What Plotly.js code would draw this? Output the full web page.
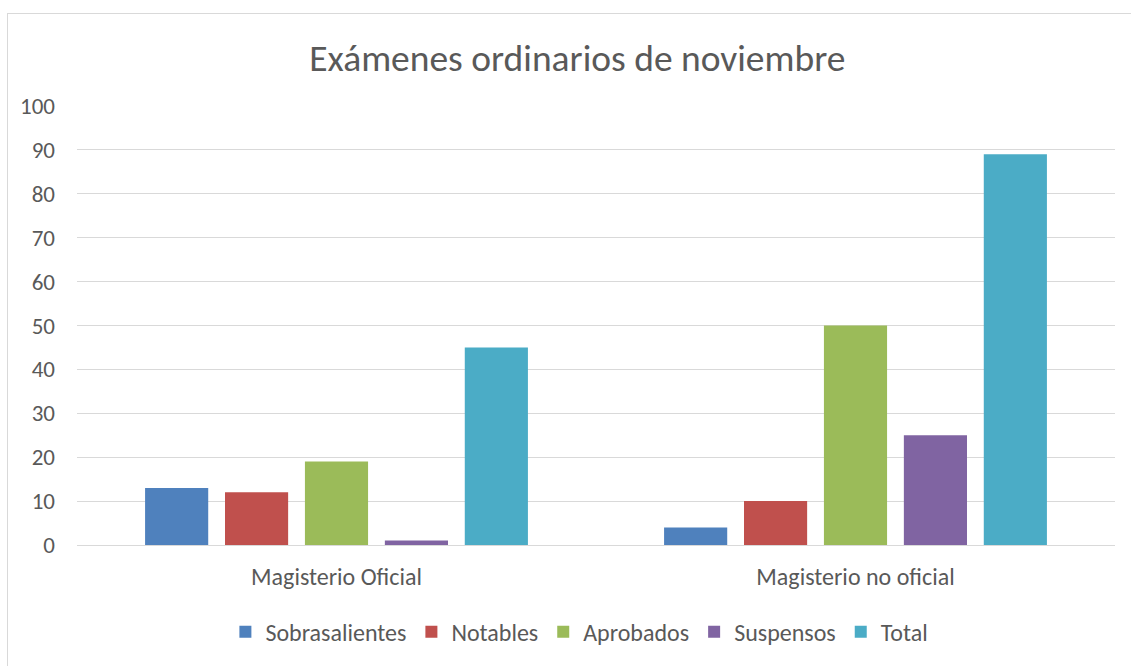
<!DOCTYPE html>
<html>
<head>
<meta charset="utf-8">
<script src="https://cdn.plot.ly/plotly-3.0.1.min.js"></script>
<style>
  html, body { margin: 0; padding: 0; background: #ffffff; overflow: hidden; }
  #frame { position: absolute; left: 7px; top: 13px; width: 1200px; height: 700px; border: 1px solid #d9d9d9; }
  #chart { position: absolute; left: 0; top: 0; width: 1131px; height: 666px; }
</style>
</head>
<body>
<div id="frame"></div>
<div id="chart"></div>
<script>
const categories = ["Magisterio Oficial", "Magisterio no oficial"];
const seriesNames = ["Sobrasalientes", "Notables", "Aprobados", "Suspensos", "Total"];
const sobrasalientes = [13, 4];
const notables = [12, 10];
const aprobados = [19, 50];
const suspensos = [1, 25];
const total = [45, 89];
const yTicks = [0, 10, 20, 30, 40, 50, 60, 70, 80, 90, 100];

const values = [sobrasalientes, notables, aprobados, suspensos, total];
const colors = ["#4F81BD", "#C0504D", "#9BBB59", "#8064A2", "#4BACC6"];

const traces = seriesNames.map((name, i) => ({
  type: "bar",
  name: name,
  x: categories,
  y: values[i],
  marker: { color: colors[i] },
  hoverinfo: "x+y+name"
}));

const fontFam = "Carlito, Lato, 'Open Sans', 'Noto Sans', sans-serif";

const layout = {
  width: 1131,
  height: 666,
  paper_bgcolor: "rgba(0,0,0,0)",
  plot_bgcolor: "rgba(0,0,0,0)",
  margin: { l: 77, r: 16, t: 105.5, b: 119.5 },
  barmode: "group",
  bargap: 0.23,
  bargroupgap: 0.21,
  font: { family: fontFam, color: "#595959", size: 23 },
  title: {
    text: "Exámenes ordinarios de noviembre",
    font: { family: fontFam, size: 37.5, color: "#595959", weight: 300 },
    x: 0.5105, xanchor: "center",
    y: 0.913, yanchor: "middle"
  },
  xaxis: {
    type: "category",
    showgrid: false,
    showline: false,
    zeroline: false,
    ticks: "",
    ticklabelstandoff: 15,
    tickfont: { size: 24, color: "#595959" }
  },
  yaxis: {
    range: [0, 100],
    tickvals: yTicks,
    ticktext: yTicks.map(String),
    showgrid: true,
    gridcolor: "#d9d9d9",
    gridwidth: 1,
    zeroline: true,
    zerolinecolor: "#d9d9d9",
    zerolinewidth: 1,
    showline: false,
    ticks: "",
    ticklabelstandoff: 21,
    tickfont: { size: 23, color: "#595959" }
  },
  legend: {
    orientation: "h",
    x: 0.484, xanchor: "center",
    y: -0.196, yanchor: "middle",
    font: { size: 24, color: "#595959" },
    itemwidth: 30,
    traceorder: "normal"
  },
  showlegend: true
};

Plotly.newPlot("chart", traces, layout, { displayModeBar: false, staticPlot: true });
</script>
</body>
</html>
